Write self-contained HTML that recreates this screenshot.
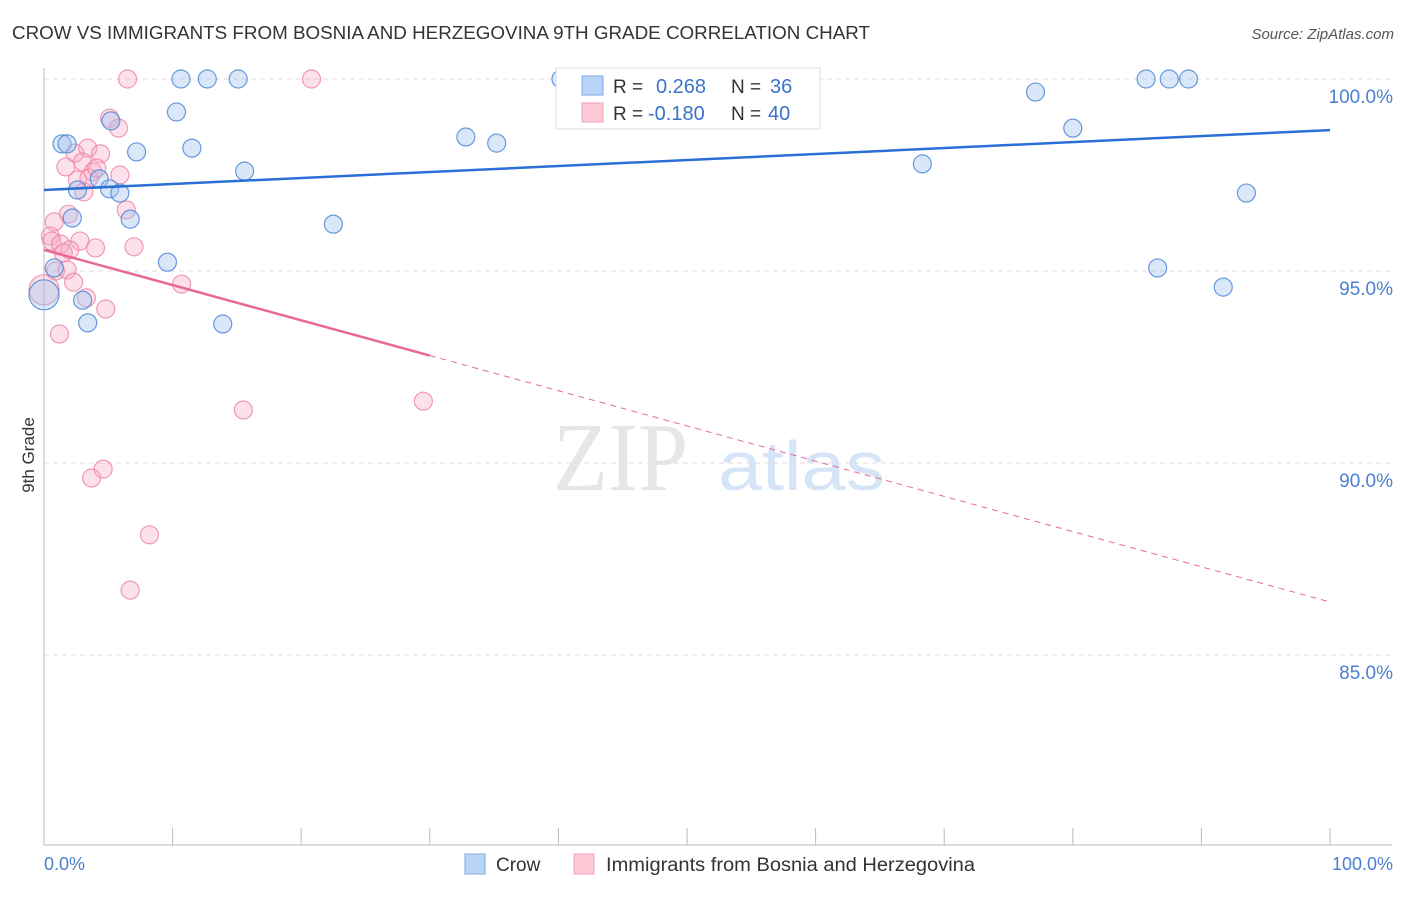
<!DOCTYPE html>
<html><head><meta charset="utf-8"><style>
body{margin:0;background:#fff;font-family:"Liberation Sans",sans-serif}
</style></head><body>
<svg id="c" width="1406" height="892" xmlns="http://www.w3.org/2000/svg" font-family="Liberation Sans, sans-serif">
<text x="12" y="39" font-size="18" fill="#333" textLength="858" lengthAdjust="spacingAndGlyphs">CROW VS IMMIGRANTS FROM BOSNIA AND HERZEGOVINA 9TH GRADE CORRELATION CHART</text>
<text x="1394" y="39" font-size="15" fill="#555" font-style="italic" text-anchor="end">Source: ZipAtlas.com</text>
<text x="34" y="455" font-size="17" fill="#333" transform="rotate(-90 34 455)" text-anchor="middle">9th Grade</text>
<g><text x="553" y="490" font-size="98" font-family="Liberation Serif, serif" fill="#e6e6e6" textLength="135" lengthAdjust="spacingAndGlyphs">ZIP</text><text x="718" y="490" font-size="70" fill="#d6e4f7" textLength="167" lengthAdjust="spacingAndGlyphs">atlas</text></g>
<g id="grid"></g>
<g id="marks"></g>
<g>
<rect x="556" y="68" width="264" height="61" fill="#fff" stroke="#ddd"/>
<rect x="582" y="76" width="21" height="19" fill="#b8d3f6" stroke="#7fa9e6"/>
<rect x="582" y="103" width="21" height="19" fill="#fcc8d6" stroke="#f0a0b8"/>
<text x="613" y="93" font-size="19" fill="#333">R =</text><text x="656" y="93" font-size="20" fill="#3b73c9">0.268</text>
<text x="731" y="93" font-size="19" fill="#333">N =</text><text x="770" y="93" font-size="20" fill="#3b73c9">36</text>
<text x="613" y="120" font-size="19" fill="#333">R =</text><text x="648" y="120" font-size="20" fill="#3b73c9">-0.180</text>
<text x="731" y="120" font-size="19" fill="#333">N =</text><text x="768" y="120" font-size="20" fill="#3b73c9">40</text>
</g>
<g>
<rect x="465" y="854" width="20" height="20" fill="#b8d3f6" stroke="#7fa9e6"/>
<text x="496" y="871" font-size="19" fill="#333">Crow</text>
<rect x="574" y="854" width="20" height="20" fill="#fcc8d6" stroke="#f0a0b8"/>
<text x="606" y="871" font-size="19" fill="#333" textLength="369" lengthAdjust="spacingAndGlyphs">Immigrants from Bosnia and Herzegovina</text>
</g>
</svg>
<script>
const yTicks=[100,95,90,85];
const xTickLabels=["0.0%","100.0%"];
const crowX=[10.65,12.7,15.1,40.2,56.5,85.7,87.5,89.0,77.1,10.3,5.2,80.0,32.8,35.2,1.4,1.8,11.5,7.2,68.3,15.6,4.3,2.6,5.1,5.9,93.5,2.2,6.7,22.5,9.6,0.8,86.6,0.0,91.7,3.0,3.4,13.9];
const crowY=[100,100,100,100,100,100,100,100,99.66,99.14,98.91,98.72,98.49,98.33,98.31,98.31,98.2,98.1,97.79,97.6,97.4,97.11,97.14,97.03,97.03,96.38,96.35,96.22,95.23,95.08,95.08,94.38,94.58,94.24,93.65,93.62];
const bosX=[6.5,20.8,5.1,5.8,2.4,3.4,4.4,1.7,3.0,3.8,2.6,3.5,3.1,6.4,1.9,0.8,0.5,0.6,1.3,2.8,2.0,4.0,7.0,1.5,0.9,1.8,2.3,10.7,0,3.3,4.8,1.2,15.5,29.5,4.6,3.7,8.2,6.7,4.1,5.9];
const bosY=[100,100,98.98,98.72,98.07,98.2,98.05,97.71,97.84,97.58,97.37,97.42,97.06,96.59,96.48,96.28,95.91,95.78,95.7,95.78,95.55,95.6,95.63,95.47,95.0,95.03,94.71,94.66,94.51,94.3,94.01,93.36,91.38,91.61,89.84,89.61,88.13,86.69,97.68,97.5];
const crowTrend=[97.11,98.67];
const bosTrend=[95.55,86.38];
const bosSolidEnd=30;
const NS="http://www.w3.org/2000/svg";
const sx=v=>44+v*12.86, sy=v=>79+(100-v)*38.4;
function mk(t,a,p){const e=document.createElementNS(NS,t);for(const k in a)e.setAttribute(k,a[k]);p.appendChild(e);return e;}
const g=document.getElementById('grid'),m=document.getElementById('marks');
yTicks.forEach(t=>{
 const l=mk('line',{x1:44,x2:1392,y1:sy(t),y2:sy(t),stroke:'#ddd','stroke-dasharray':'5,4'},g);
 
 
 const tx=mk('text',{x:1393,y:sy(t)+24,'font-size':19,fill:'#4a7fd0','text-anchor':'end'},g);
 tx.textContent=t.toFixed(1)+'%';
 
 
});
const ax=mk('line',{x1:44,x2:44,y1:68,y2:845,stroke:'#bbb'},g);


const bx=mk('line',{x1:44,x2:1392,y1:845,y2:845,stroke:'#bbb'},g);


for(let i=0;i<=10;i++){const t=mk('line',{x1:sx(i*10),x2:sx(i*10),y1:828,y2:845,stroke:'#bbb'},g);
 
 }
[[0,'start',44],[100,'end',1393]].forEach((d,i)=>{const t=mk('text',{x:d[2],y:870,'font-size':18,fill:'#4a7fd0','text-anchor':d[1]},g);t.textContent=xTickLabels[i];
 
 });
function pts(X,Y,fill,stroke,name){X.forEach((x,i)=>{const r=(x===0)?15:9;
 const c=mk('circle',{cx:sx(x),cy:sy(Y[i]),r:r,fill:fill,stroke:stroke,'stroke-width':1.2},m);
 
 });}
pts(bosX,bosY,'rgba(248,170,195,0.35)','rgba(235,130,165,0.8)','bosnia-point');
pts(crowX,crowY,'rgba(160,196,240,0.4)','rgba(80,135,215,0.85)','crow-point');
const ct=mk('line',{x1:sx(0),y1:sy(crowTrend[0]),x2:sx(100),y2:sy(crowTrend[1]),stroke:'#2a6fd6','stroke-width':2.5},m);


const bAt=v=>bosTrend[0]+(bosTrend[1]-bosTrend[0])*v/100;
const bt=mk('line',{x1:sx(0),y1:sy(bAt(0)),x2:sx(bosSolidEnd),y2:sy(bAt(bosSolidEnd)),stroke:'#e8689a','stroke-width':2.5},m);


const bd=mk('line',{x1:sx(bosSolidEnd),y1:sy(bAt(bosSolidEnd)),x2:sx(100),y2:sy(bAt(100)),stroke:'#e8689a','stroke-width':1,'stroke-dasharray':'6,5'},m);


</script>
</body></html>
